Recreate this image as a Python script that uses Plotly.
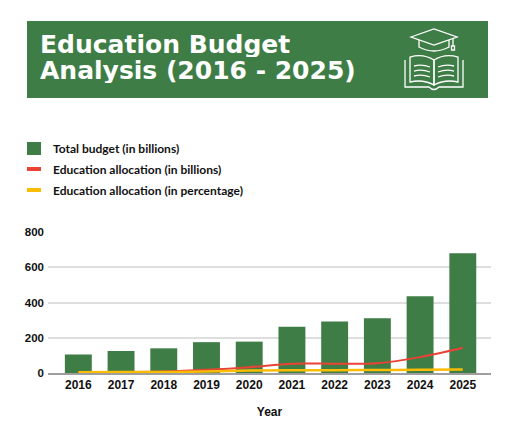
import plotly.graph_objects as go

# データ
years = ['2016', '2017', '2018', '2019', '2020', '2021', '2022', '2023', '2024', '2025']
total_budget = [105, 125, 140, 175, 178, 263, 292, 310, 435, 680]
edu_billions = [3, 4, 8, 18, 33, 53, 53, 56, 90, 143]
edu_percent = [4, 5, 6, 8, 14, 16, 16, 17, 18, 20]
y_ticks = [0, 200, 400, 600, 800]

title_lines = ['Education Budget', 'Analysis (2016 - 2025)']
legend_names = ['Total budget (in billions)',
                'Education allocation (in billions)',
                'Education allocation (in percentage)']

# 色
green = '#3e7d46'
red = '#ea4335'
yellow = '#fbbc04'

# ページの余白（bodyのmargin 8px）を差し引いたサイズ
OFF = 8
W, H = 515 - 2 * OFF, 437 - 2 * OFF
# 描画領域（参照画像上のピクセル）
plot_left, plot_right, plot_top, plot_bottom = 48, 491, 232, 373
L = plot_left - OFF
R = W - (plot_right - OFF)
T = plot_top - OFF
B = H - (plot_bottom - OFF)
plot_w = plot_right - plot_left
plot_h = plot_bottom - plot_top


# 参照画像のピクセル座標 → paper座標
def px(x):
    return (x - plot_left) / plot_w


def py(y):
    return (plot_bottom - y) / plot_h


def path(cmds):
    # cmds: [('M', x, y), ('L', x, y), ('Q', cx, cy, x, y), ('Z',)]
    out = []
    for c in cmds:
        if c[0] == 'Z':
            out.append('Z')
        elif c[0] == 'Q':
            out.append(f'Q {px(c[1]):.4f},{py(c[2]):.4f} {px(c[3]):.4f},{py(c[4]):.4f}')
        else:
            out.append(f'{c[0]} {px(c[1]):.4f},{py(c[2]):.4f}')
    return ' '.join(out)


fig = go.Figure()

fig.add_trace(go.Bar(x=years, y=total_budget, name=legend_names[0],
                     marker=dict(color=green, line=dict(width=0))))
fig.add_trace(go.Scatter(x=years, y=edu_billions, name=legend_names[1], mode='lines',
                         line=dict(color=red, width=2, shape='spline')))
fig.add_trace(go.Scatter(x=years, y=edu_percent, name=legend_names[2], mode='lines',
                         line=dict(color=yellow, width=2.5, shape='spline')))

shapes = []
annotations = []

# タイトルの緑の帯
shapes.append(dict(type='rect', xref='paper', yref='paper', layer='below',
                   x0=px(27), x1=px(488), y0=py(21), y1=py(98),
                   fillcolor=green, line=dict(width=0)))

title_font = dict(family='DejaVu Sans', size=25, color='white', weight='bold')
annotations.append(dict(text=title_lines[0], xref='paper', yref='paper',
                        x=px(38), y=py(44), xanchor='left', yanchor='middle', showarrow=False,
                        height=26, font=title_font))
annotations.append(dict(text=title_lines[1], xref='paper', yref='paper',
                        x=px(38), y=py(70), xanchor='left', yanchor='middle', showarrow=False,
                        height=26, font=title_font))

# アイコン（帽子と本）
icon_line = dict(color='white', width=1.3)
icon_paths = [
    # 帽子の上面
    [('M', 411, 37), ('L', 434, 29), ('L', 457, 37), ('L', 434, 45), ('Z',)],
    # 帽子の下部
    [('M', 419, 40), ('L', 419, 47), ('Q', 434, 55, 449, 47), ('L', 449, 40)],
    # 房
    [('M', 453, 38), ('L', 453, 46)],
    # 本の表紙
    [('M', 405, 60), ('L', 405, 87), ('L', 429, 87), ('Q', 434, 92, 439, 87),
     ('L', 463, 87), ('L', 463, 60)],
    # 左ページ
    [('M', 410, 57), ('Q', 423, 53, 434, 60), ('L', 434, 85), ('Q', 423, 79, 410, 82), ('Z',)],
    # 右ページ
    [('M', 458, 57), ('Q', 445, 53, 434, 60), ('L', 434, 85), ('Q', 445, 79, 458, 82), ('Z',)],
    # 文字の線
    [('M', 414, 66), ('Q', 422, 64, 430, 67)],
    [('M', 414, 71), ('Q', 422, 69, 430, 72)],
    [('M', 414, 76), ('Q', 422, 74, 430, 77)],
    [('M', 454, 66), ('Q', 446, 64, 438, 67)],
    [('M', 454, 71), ('Q', 446, 69, 438, 72)],
    [('M', 454, 76), ('Q', 446, 74, 438, 77)],
]
for p in icon_paths:
    shapes.append(dict(type='path', xref='paper', yref='paper', path=path(p), line=icon_line))
shapes.append(dict(type='rect', xref='paper', yref='paper',
                   x0=px(451.5), x1=px(454.5), y0=py(46), y1=py(50),
                   line=icon_line))

# 凡例
shapes.append(dict(type='rect', xref='paper', yref='paper',
                   x0=px(27), x1=px(41), y0=py(142), y1=py(155),
                   fillcolor=green, line=dict(width=0)))
shapes.append(dict(type='line', xref='paper', yref='paper',
                   x0=px(27), x1=px(41), y0=py(169), y1=py(169),
                   line=dict(color=red, width=4)))
shapes.append(dict(type='line', xref='paper', yref='paper',
                   x0=px(27), x1=px(41), y0=py(190), y1=py(190),
                   line=dict(color=yellow, width=4)))
for name, yy in zip(legend_names, [148, 169, 190]):
    annotations.append(dict(text=name, xref='paper', yref='paper',
                            x=px(51), y=py(yy), xanchor='left', yanchor='middle',
                            showarrow=False,
                            font=dict(family='Lato', size=12, color='#111111', weight='bold')))

axis_font = dict(family='Arial, Liberation Sans', size=12, color='#111111', weight='bold')

fig.update_xaxes(type='category', range=[-0.71, 9.66],
                 showgrid=False, showline=True, linecolor='#9e9e9e', linewidth=2,
                 tickfont=axis_font,
                 title=dict(text='Year', standoff=16, font=axis_font))

fig.update_yaxes(range=[0, 800], tickvals=y_ticks, ticklabelstandoff=3,
                 showgrid=True, gridcolor='#dedede', gridwidth=1.5, zeroline=False,
                 showline=False,
                 tickfont=dict(family='Arial, Liberation Sans', size=11.5, color='#111111',
                               weight='bold'))

fig.update_layout(width=W, height=H,
                  margin=dict(l=L, r=R, t=T, b=B),
                  paper_bgcolor='white', plot_bgcolor='white',
                  bargap=0.37, showlegend=False,
                  shapes=shapes, annotations=annotations)

fig.write_html("out.html")
